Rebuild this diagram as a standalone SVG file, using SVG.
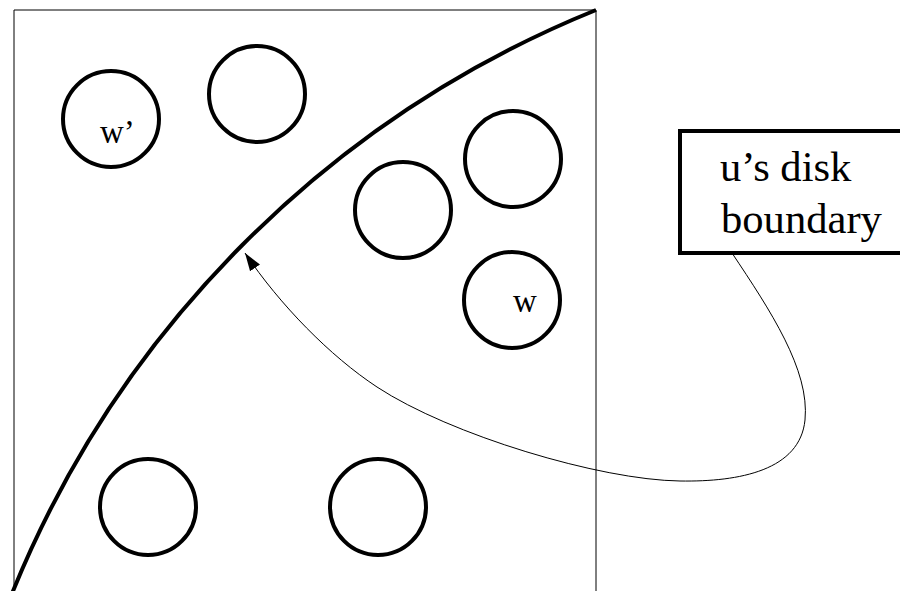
<svg xmlns="http://www.w3.org/2000/svg" width="900" height="591" viewBox="0 0 900 591">
<style>
.frame{fill:none;stroke:#000;stroke-width:1}
.disk{fill:none;stroke:#000;stroke-width:4}
.bound{fill:none;stroke:#000;stroke-width:4}
.lbl{font-family:"Liberation Serif","Times New Roman",serif;fill:#000}
.conn{fill:none;stroke:#000;stroke-width:1}
</style>
<defs>
<marker id="arr" markerUnits="userSpaceOnUse" markerWidth="20" markerHeight="14" refX="18" refY="6" orient="auto" viewBox="0 0 20 12">
<path d="M0,0 L18,6 L0,12 Z" fill="#000"/>
</marker>
</defs>
<rect width="900" height="591" fill="#fff"/>
<g id="frame">
<path class="frame" d="M14,600 L14,10 L596,10 L596,600"/>
</g>
<g id="boundary-curve">
<path class="bound" d="M9.4,600 A1059,1059 0 0 1 596,10"/>
</g>
<g id="disk-wprime">
<circle class="disk" cx="111" cy="119" r="48"/>
<text class="lbl" x="100" y="143" font-size="33">w’</text>
</g>
<g id="disk-2">
<circle class="disk" cx="257" cy="94" r="48"/>
</g>
<g id="disk-3">
<circle class="disk" cx="513" cy="159" r="48"/>
</g>
<g id="disk-4">
<circle class="disk" cx="403" cy="210" r="48"/>
</g>
<g id="disk-w">
<circle class="disk" cx="512" cy="300" r="48"/>
<text class="lbl" x="513" y="312" font-size="33">w</text>
</g>
<g id="disk-6">
<circle class="disk" cx="148" cy="507" r="48"/>
</g>
<g id="disk-7">
<circle class="disk" cx="378" cy="507" r="48"/>
</g>
<g id="label">
<rect x="680" y="131" width="230" height="122" fill="#fff" stroke="#000" stroke-width="4"/>
<text class="lbl" x="720" y="181" font-size="42.6">u’s disk</text>
<text class="lbl" x="721" y="233" font-size="42.6">boundary</text>
</g>
<g id="connectors">
<path class="conn" marker-end="url(#arr)" d="M732,253 C770,310 810,370 805,420 C800,470 740,482 680,481 C600,480 450,435 377,387 C330,356 280,305 245,253"/>
</g>
</svg>
